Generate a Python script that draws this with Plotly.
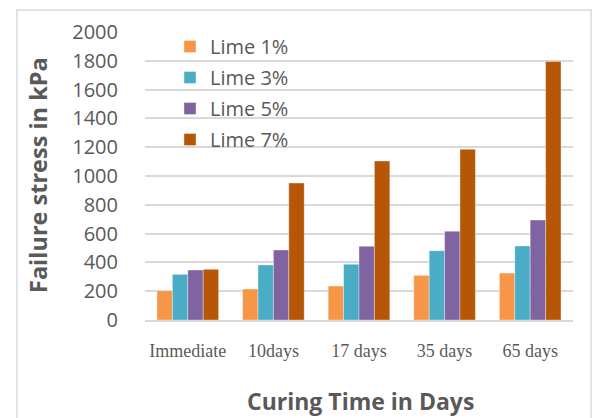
import plotly.graph_objects as go

# Curing time categories and failure stress (kPa) per lime content
categories = ["Immediate", "10days", "17 days", "35 days", "65 days"]
lime_1 = [203, 215, 236, 310, 326]
lime_3 = [317, 382, 387, 481, 514]
lime_5 = [347, 486, 512, 616, 694]
lime_7 = [352, 951, 1104, 1185, 1795]
series_names = ["Lime 1%", "Lime 3%", "Lime 5%", "Lime 7%"]
y_ticks = [0, 200, 400, 600, 800, 1000, 1200, 1400, 1600, 1800, 2000]

colors = ["#F79646", "#4BACC6", "#8064A2", "#B65708"]

W, H = 592, 418
L, R, T, B = 145, 19, 32, 98
pw, ph = W - L - R, H - T - B


def px_x(x):
    return (x - L) / pw


def px_y(y):
    return (H - B - y) / ph


fig = go.Figure()
for name, vals, col in zip(series_names, [lime_1, lime_3, lime_5, lime_7], colors):
    fig.add_trace(go.Bar(
        x=categories, y=vals, name=name, legendgroup=name,
        marker=dict(color=col, line=dict(color="rgba(255,255,255,0.35)", width=1)),
    ))

grey = "#595959"
fig.update_layout(
    width=W, height=H,
    margin=dict(l=L, r=R, t=T, b=B),
    paper_bgcolor="white", plot_bgcolor="white",
    barmode="group", bargap=0.28, bargroupgap=0,
    showlegend=True,
    legend=dict(
        x=px_x(170), y=px_y(27), xanchor="left", yanchor="top",
        font=dict(family="Open Sans", size=20, color=grey),
        bgcolor="rgba(0,0,0,0)", tracegroupgap=2, itemwidth=30,
        traceorder="grouped",
    ),
    xaxis=dict(
        showgrid=False, showline=True, linecolor="#D9D9D9", linewidth=2,
        ticks="", tickfont=dict(family="Liberation Serif", size=18, color=grey),
        ticklabelstandoff=13, fixedrange=True,
    ),
    yaxis=dict(
        range=[0, 2000], tickvals=y_ticks, showgrid=True, gridcolor="#D9D9D9",
        gridwidth=1.5, zeroline=False, showline=False, ticks="",
        tickfont=dict(family="Open Sans", size=20, color=grey),
        ticklabelstandoff=26, fixedrange=True,
    ),
    annotations=[
        dict(text="<b>Failure stress in kPa</b>", xref="paper", yref="paper",
             x=px_x(38), y=px_y(175), textangle=-90, showarrow=False,
             xanchor="center", yanchor="middle",
             font=dict(family="Open Sans", size=23.5, color=grey)),
        dict(text="<b>Curing Time in Days</b>", xref="paper", yref="paper",
             x=px_x(360), y=px_y(401), showarrow=False,
             xanchor="center", yanchor="middle",
             font=dict(family="Open Sans", size=23, color=grey)),
        dict(text="gy", xref="paper", yref="paper",
             x=px_x(68), y=px_y(-11), showarrow=False,
             xanchor="center", yanchor="middle",
             font=dict(family="Liberation Serif", size=20, color="black")),
    ],
    shapes=[
        dict(type="rect", xref="paper", yref="paper",
             x0=px_x(17), x1=px_x(591), y0=px_y(440), y1=px_y(10),
             line=dict(color="#D9D9D9", width=1.5), fillcolor="rgba(0,0,0,0)",
             layer="below"),
    ],
)

fig.write_html("out.html")
